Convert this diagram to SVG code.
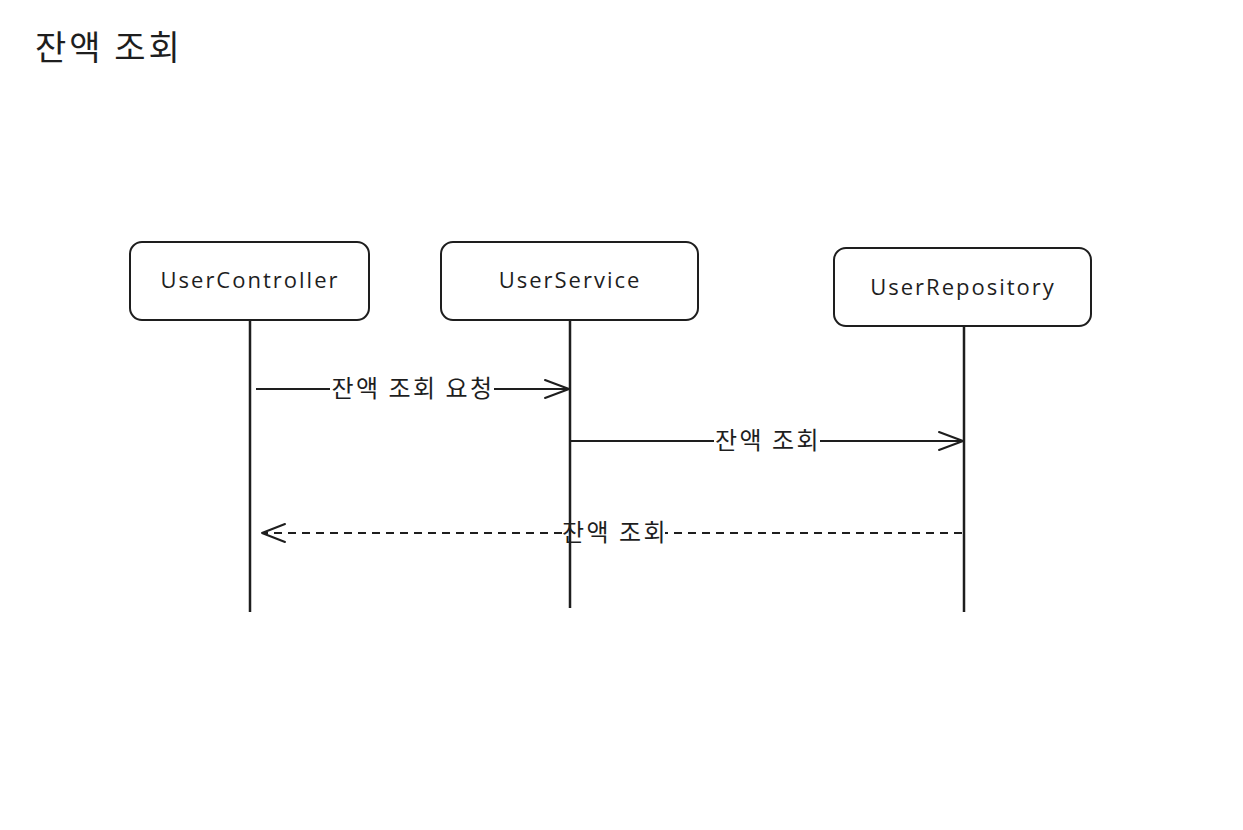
<svg xmlns="http://www.w3.org/2000/svg" width="1243" height="830" viewBox="0 0 1243 830">
<style>
.box{fill:#ffffff;stroke:#1e1e1e;stroke-width:2}
.life{stroke:#1e1e1e;stroke-width:2.5;fill:none}
.msg{stroke:#1e1e1e;stroke-width:2;fill:none}
.dash{stroke:#1e1e1e;stroke-width:2;fill:none;stroke-dasharray:8 6}
.head{stroke:#1e1e1e;stroke-width:2;fill:none;stroke-linecap:round;stroke-linejoin:round}
.lbl{font-family:"Open Sans","Liberation Sans","Noto Sans CJK KR",sans-serif;font-size:22px;letter-spacing:2px;fill:#1e1e1e;text-anchor:middle}
.kr{font-family:"Noto Sans CJK KR","Noto Sans",sans-serif;font-size:24px;letter-spacing:2.5px;fill:#1e1e1e;text-anchor:middle}
.title{font-family:"Noto Sans CJK KR","Noto Sans",sans-serif;font-size:34px;letter-spacing:3px;fill:#1e1e1e}
</style>
<rect width="1243" height="830" fill="#ffffff"/>
<text class="title" x="35" y="60">잔액 조회</text>
<g id="lifelines">
<line class="life" x1="250" y1="320" x2="250" y2="612"/>
<line class="life" x1="570" y1="320" x2="570" y2="608"/>
<line class="life" x1="964" y1="318" x2="964" y2="612"/>
</g>
<g id="node-usercontroller">
<rect class="box" x="130" y="242" width="239" height="78" rx="12"/>
<text class="lbl" x="250" y="288">UserController</text>
</g>
<g id="node-userservice">
<rect class="box" x="441" y="242" width="257" height="78" rx="12"/>
<text class="lbl" x="570" y="288">UserService</text>
</g>
<g id="node-userrepository">
<rect class="box" x="834" y="248" width="257" height="78" rx="12"/>
<text class="lbl" x="963" y="295">UserRepository</text>
</g>
<g id="connectors">
<line class="msg" x1="256" y1="389" x2="330" y2="389"/>
<line class="msg" x1="494" y1="389" x2="569" y2="389"/>
<polyline class="head" points="545,380 569,389 545,398"/>
<text class="kr" x="413" y="397">잔액 조회 요청</text>
<line class="msg" x1="571" y1="441" x2="714" y2="441"/>
<line class="msg" x1="820" y1="441" x2="963" y2="441"/>
<polyline class="head" points="939,432 963,441 939,450"/>
<text class="kr" x="768" y="449">잔액 조회</text>
<line class="dash" x1="962" y1="533" x2="665" y2="533"/>
<line class="dash" x1="562" y1="533" x2="264" y2="533"/>
<polyline class="head" points="285,524 262,533 285,542"/>
<text class="kr" x="615" y="541">잔액 조회</text>
</g>
</svg>
